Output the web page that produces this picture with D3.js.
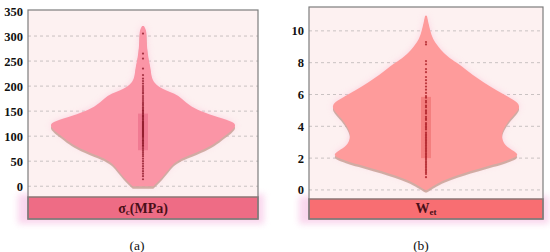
<!DOCTYPE html>
<html>
<head>
<meta charset="utf-8">
<script src="https://cdn.jsdelivr.net/npm/d3@7"></script>
<style>
  body { margin: 0; background: #fff; }
  svg { display: block; }
</style>
</head>
<body>
<svg id="chart" width="550" height="252"></svg>
<script>
// panel (a): sigma_c (MPa)
var ticksA = [0, 50, 100, 150, 200, 250, 300, 350];
var violinValsA = [0, 10, 25, 40, 50, 60, 75, 90, 100, 110, 120, 128, 137, 151, 161, 175, 185, 192, 198, 207, 218, 237, 250, 265, 285, 300, 312, 320];
var violinDensA = [0.11, 0.17, 0.24, 0.30, 0.36, 0.47, 0.68, 0.81, 0.87, 0.95, 1.0, 0.98, 0.82, 0.60, 0.50, 0.42, 0.34, 0.24, 0.17, 0.12, 0.09, 0.08, 0.065, 0.05, 0.04, 0.038, 0.035, 0.01];
var pointsA = [305, 265, 255, 235, 222, 215, 210, 205, 200, 196, 192, 188, 185, 180, 176, 172, 168, 165, 162, 158, 155, 152, 150, 147, 145, 142, 140, 138, 135, 133, 130, 128, 126, 124, 122, 120, 118, 116, 114, 112, 110, 108, 106, 104, 102, 100, 98, 95, 92, 90, 87, 85, 82, 80, 76, 72, 68, 64, 60, 55, 50, 45, 40, 35, 30, 25, 20, 14];
var boxA = [72, 145];

// panel (b): W_et
var ticksB = [0, 2, 4, 6, 8, 10];
var violinValsB = [0, 0.15, 0.45, 0.8, 1.05, 1.3, 1.6, 1.85, 2.05, 2.2, 2.4, 2.7, 3.0, 3.5, 4.0, 4.5, 5.0, 5.3, 5.6, 6.0, 6.5, 7.0, 7.5, 8.0, 8.2, 8.6, 9.0, 9.5, 10.0, 10.5, 10.95];
var violinDensB = [0.01, 0.05, 0.13, 0.27, 0.4, 0.55, 0.72, 0.86, 0.95, 0.98, 0.95, 0.86, 0.82, 0.80, 0.84, 0.9, 0.98, 1.0, 0.95, 0.83, 0.68, 0.55, 0.44, 0.33, 0.27, 0.19, 0.13, 0.07, 0.045, 0.025, 0.01];
var pointsB = [9.3, 9.15, 8.1, 7.9, 7.6, 7.4, 7.1, 6.9, 6.7, 6.5, 6.3, 6.1, 5.9, 5.8, 5.6, 5.5, 5.3, 5.2, 5.0, 4.9, 4.8, 4.6, 4.5, 4.4, 4.2, 4.1, 4.0, 3.9, 3.8, 3.6, 3.5, 3.4, 3.3, 3.2, 3.1, 3.0, 2.9, 2.8, 2.7, 2.6, 2.5, 2.4, 2.3, 2.2, 2.1, 2.0, 1.9, 1.8, 1.7, 1.6, 1.5, 1.4, 1.3, 1.2, 1.1, 1.0, 0.8];
var boxB = [2.0, 5.85];

var serif = "'Liberation Serif', 'Times New Roman', serif";

var svg = d3.select("#chart");
var defs = svg.append("defs");
defs.append("filter").attr("id", "glow").attr("x", "-20%").attr("y", "-20%").attr("width", "140%").attr("height", "140%")
    .append("feGaussianBlur").attr("stdDeviation", 3);

function drawPanel(p) {
    var g = svg.append("g");
    var y = d3.scaleLinear().domain(p.domain).range([p.bottom, p.top]);
    var w = d3.scaleLinear().domain([0, 1]).range([0, p.maxHalf]);
    var cx = (p.left + p.right) / 2;

    // pink halo round the strip
    g.append("rect")
        .attr("x", p.left - 10).attr("y", p.bottom - 3)
        .attr("width", p.right - p.left + 16).attr("height", p.stripBottom - p.bottom + 8)
        .attr("fill", "#f7c6e6").attr("opacity", 0.7)
        .attr("filter", "url(#glow)");

    // plot background
    g.append("rect")
        .attr("x", p.left).attr("y", p.top)
        .attr("width", p.right - p.left).attr("height", p.bottom - p.top)
        .attr("fill", "#fdf1f1");

    // grid + tick labels
    var axis = d3.axisLeft(y).tickValues(p.ticks).tickSize(0).tickPadding(5);
    var ax = g.append("g").attr("transform", "translate(" + p.left + ",0)").call(axis)
        .attr("font-family", serif).attr("font-size", 12.5).attr("font-weight", "bold");
    ax.select(".domain").remove();
    ax.selectAll("text").attr("fill", "#111");

    g.selectAll(".grid").data(p.ticks.filter(function(t) { return y(t) > p.top + 2; }))
        .enter().append("line")
        .attr("x1", p.left).attr("x2", p.right)
        .attr("y1", function(d) { return y(d); }).attr("y2", function(d) { return y(d); })
        .attr("stroke", "#c9c2c2").attr("stroke-width", 1).attr("stroke-dasharray", "3,3");

    var dens = p.vals.map(function(v, i) { return {v: v, d: p.dens[i]}; });
    var area = d3.area()
        .y(function(d) { return y(d.v); })
        .x0(function(d) { return cx - w(d.d); })
        .x1(function(d) { return cx + w(d.d); })
        .curve(d3.curveBasis);

    // glow, shadow, then body of violin
    g.append("path").attr("d", area(dens))
        .attr("fill", "#f9bdd5").attr("opacity", 0.6)
        .attr("filter", "url(#glow)");
    g.append("path").attr("d", area(dens))
        .attr("transform", "translate(0,2.5)")
        .attr("fill", "#c9a196").attr("opacity", 0.85);
    g.append("path").attr("d", area(dens))
        .attr("fill", p.fill);

    // box
    g.append("rect")
        .attr("x", cx - 5).attr("width", 10)
        .attr("y", y(p.box[1])).attr("height", y(p.box[0]) - y(p.box[1]))
        .attr("fill", p.boxFill).attr("opacity", 0.45);

    // points
    g.selectAll(".pt").data(p.points).enter().append("circle")
        .attr("cx", cx).attr("cy", function(d) { return y(d); })
        .attr("r", 1.1)
        .attr("fill", p.pointFill).attr("opacity", 0.75);

    // strip
    g.append("rect")
        .attr("x", p.left).attr("y", p.bottom)
        .attr("width", p.right - p.left).attr("height", p.stripBottom - p.bottom)
        .attr("fill", p.stripFill)
        .attr("stroke", "#8c7674").attr("stroke-width", 1.5);

    var label = g.append("text")
        .attr("x", cx).attr("y", p.stripBottom - 6)
        .attr("text-anchor", "middle")
        .style("font-family", serif)
        .style("font-weight", "bold").style("font-size", "14px")
        .attr("fill", "#4a0f18");
    label.append("tspan").text(p.label[0]);
    label.append("tspan").attr("baseline-shift", "-25%").style("font-size", "9px").text(p.label[1]);
    if (p.label[2]) label.append("tspan").text(p.label[2]);

    // frame
    g.append("rect")
        .attr("x", p.left).attr("y", p.top)
        .attr("width", p.right - p.left).attr("height", p.stripBottom - p.top)
        .attr("fill", "none").attr("stroke", "#7d7d7d").attr("stroke-width", 1.2);

    // caption
    g.append("text")
        .attr("x", p.capX).attr("y", 250)
        .attr("text-anchor", "middle")
        .style("font-family", serif)
        .style("font-size", "13.5px").attr("fill", "#111")
        .text(p.caption);
}

drawPanel({
    left: 28, right: 258, top: 10, bottom: 197, stripBottom: 219,
    domain: [-21.5, 352], ticks: ticksA, maxHalf: 93,
    vals: violinValsA, dens: violinDensA, points: pointsA, box: boxA,
    fill: "#fb95a6", boxFill: "#e2587a", pointFill: "#8a1424",
    stripFill: "#ee6c85", label: ["σ", "c", "(MPa)"], caption: "(a)", capX: 137
});

drawPanel({
    left: 309, right: 543, top: 7, bottom: 199, stripBottom: 219,
    domain: [-0.57, 11.5], ticks: ticksB, maxHalf: 94,
    vals: violinValsB, dens: violinDensB, points: pointsB, box: boxB,
    fill: "#fe9b9b", boxFill: "#e85a5a", pointFill: "#a3141c",
    stripFill: "#f86e72", label: ["W", "et"], caption: "(b)", capX: 421
});
</script>
</body>
</html>
